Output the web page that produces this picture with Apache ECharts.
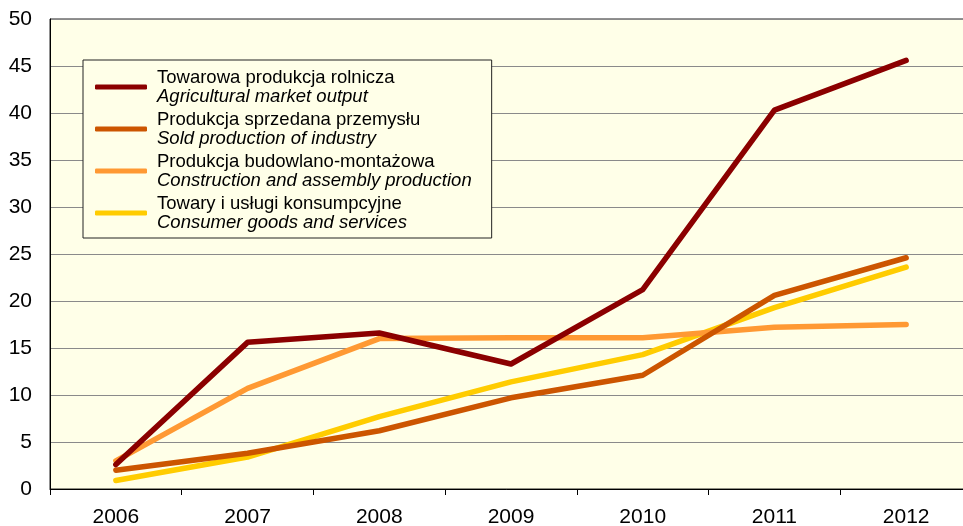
<!DOCTYPE html>
<html>
<head>
<meta charset="utf-8">
<script src="https://cdn.jsdelivr.net/npm/echarts@6/dist/echarts.min.js"></script>
<style>
  html, body { margin: 0; padding: 0; background: #fff; }
  #chart { width: 963px; height: 526px; }
</style>
</head>
<body>
<div id="chart"></div>
<script>
// Data
const years = ['2006', '2007', '2008', '2009', '2010', '2011', '2012']
const namesPl = [
  'Towarowa produkcja rolnicza',
  'Produkcja sprzedana przemysłu',
  'Produkcja budowlano-montażowa',
  'Towary i usługi konsumpcyjne'
]
const namesEn = [
  'Agricultural market output',
  'Sold production of industry',
  'Construction and assembly production',
  'Consumer goods and services'
]
const agricultural = [2.6, 15.6, 16.6, 13.3, 21.2, 40.3, 45.6]
const industry = [2.0, 3.8, 6.2, 9.7, 12.1, 20.6, 24.6]
const construction = [3.0, 10.7, 16.0, 16.1, 16.1, 17.2, 17.5]
const consumer = [0.9, 3.4, 7.7, 11.4, 14.3, 19.3, 23.6]
const colors = ['#8b0000', '#cc5500', '#ff9933', '#ffcc00']

const chart = echarts.init(document.getElementById('chart'))

const seriesData = [agricultural, industry, construction, consumer]

chart.setOption({
  animation: false,
  backgroundColor: '#ffffff',
  textStyle: { fontFamily: 'Liberation Sans, Arial, sans-serif' },
  grid: {
    left: 50,
    right: -9,
    top: 19,
    bottom: 37,
    outerBoundsMode: 'none',
    show: true,
    backgroundColor: '#ffffe8',
    borderColor: '#222',
    borderWidth: 1
  },
  legend: {
    orient: 'vertical',
    left: 83,
    top: 60,
    padding: [8, 20, 6, 12],
    itemGap: 4,
    itemWidth: 52,
    itemHeight: 5,
    icon: 'roundRect',
    backgroundColor: '#ffffe8',
    borderColor: '#222',
    borderWidth: 1,
    data: namesPl,
    formatter: (name) => {
      const i = namesPl.indexOf(name)
      return `{a|${name}}\n{b|${namesEn[i]}}`
    },
    textStyle: {
      color: '#000',
      padding: [0, 0, 0, 5],
      rich: {
        a: { fontSize: 18.5, lineHeight: 19, color: '#000', fontFamily: 'Liberation Sans' },
        b: { fontSize: 18.5, lineHeight: 19, color: '#000', fontStyle: 'italic', fontFamily: 'Liberation Sans' }
      }
    }
  },
  xAxis: {
    type: 'category',
    data: years,
    boundaryGap: true,
    axisLine: { lineStyle: { color: '#000', width: 1 } },
    axisTick: { show: true, length: 6, lineStyle: { color: '#000' } },
    axisLabel: { color: '#000', fontSize: 21, margin: 18 },
    splitLine: { show: false }
  },
  yAxis: {
    type: 'value',
    min: 0,
    max: 50,
    interval: 5,
    axisLine: { show: true, lineStyle: { color: '#000', width: 1 } },
    axisTick: { show: false },
    axisLabel: { color: '#000', fontSize: 21, margin: 18 },
    splitLine: { show: true, lineStyle: { color: '#8a8a8a', width: 1 } }
  },
  series: seriesData.map((d, i) => ({
    name: namesPl[i],
    type: 'line',
    data: d,
    symbol: 'none',
    z: 10 - i,
    itemStyle: { color: colors[i] },
    lineStyle: { color: colors[i], width: 5.5, cap: 'round', join: 'round' }
  }))
})
</script>
</body>
</html>
